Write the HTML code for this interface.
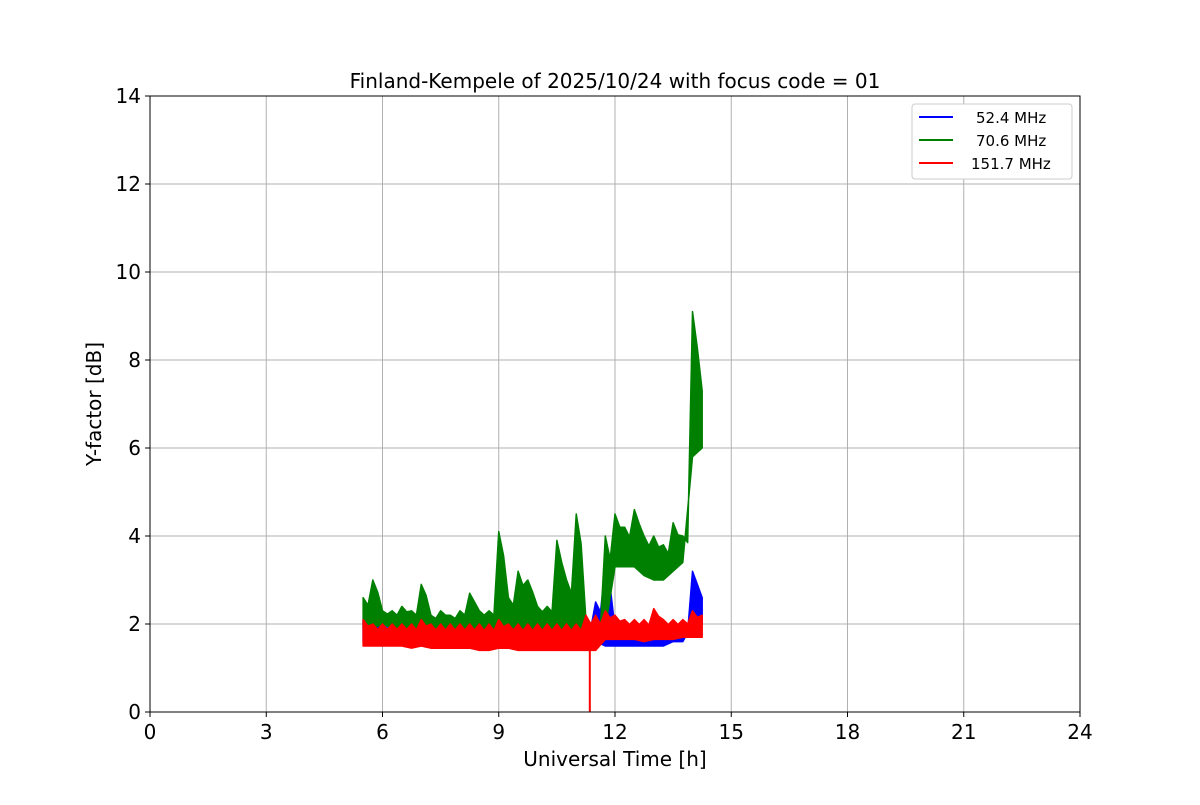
<!DOCTYPE html>
<html><head><meta charset="utf-8"><style>
body{margin:0;background:#fff;font-family:"Liberation Sans","DejaVu Sans",sans-serif}
svg text{font-family:"DejaVu Sans","Liberation Sans",sans-serif}
</style></head><body>
<svg id="chart" width="1200" height="800" xmlns="http://www.w3.org/2000/svg">
<rect width="1200" height="800" fill="#fff"/>
<g id="grid"></g><g id="series"></g><g id="axes"></g>
<text x="615" y="88" font-size="20" text-anchor="middle">Finland-Kempele of 2025/10/24 with focus code = 01</text>
<text x="615" y="766" font-size="20" text-anchor="middle">Universal Time [h]</text>
<text transform="translate(101,404) rotate(-90)" font-size="20" text-anchor="middle">Y-factor [dB]</text>
<g>
<rect x="912" y="104" width="160" height="75" fill="#fff" stroke="#ccc" rx="3"/>
<line x1="919" y1="117" x2="953" y2="117" stroke="blue" stroke-width="2"/><text x="976" y="123" font-size="15">52.4 MHz</text>
<line x1="919" y1="140" x2="953" y2="140" stroke="green" stroke-width="2"/><text x="976" y="146" font-size="15">70.6 MHz</text>
<line x1="919" y1="163" x2="953" y2="163" stroke="red" stroke-width="2"/><text x="971" y="169" font-size="15">151.7 MHz</text>
</g>
</svg>
<script>
const times=[5.5,5.75,6,6.25,6.5,6.75,7,7.25,7.5,7.75,8,8.25,8.5,8.75,9,9.25,9.5,9.75,10,10.25,10.5,10.75,11,11.25,11.5,11.75,12,12.25,12.5,12.75,13,13.25,13.5,13.75,14,14.25];
const greenHigh=[2.6,3.0,2.3,2.3,2.4,2.3,2.9,2.2,2.3,2.2,2.3,2.7,2.3,2.3,4.1,2.6,3.2,3.0,2.4,2.4,3.9,3.0,4.5,2.1,2.0,4.0,4.5,4.2,4.6,4.0,4.0,3.8,4.3,4.0,9.1,7.3];
const greenLow=[1.9,1.9,2.0,1.9,1.9,1.9,1.9,1.9,1.9,1.9,1.9,1.9,1.9,1.9,1.9,1.9,1.9,1.9,1.9,1.9,1.9,1.8,1.8,1.8,1.8,1.9,3.3,3.3,3.3,3.1,3.0,3.0,3.2,3.4,5.8,6.0];
const blueHigh=[2.1,2.1,2.0,2.0,2.0,2.0,2.2,2.0,2.0,2.0,2.0,2.0,2.0,2.0,2.0,2.1,2.0,2.0,2.1,2.1,2.1,2.0,2.0,2.0,2.5,3.3,1.9,1.9,1.8,1.8,1.8,1.8,1.8,1.9,3.2,2.6];
const blueLow=[1.6,1.6,1.6,1.6,1.6,1.6,1.6,1.6,1.6,1.6,1.6,1.6,1.6,1.6,1.6,1.6,1.6,1.6,1.6,1.6,1.6,1.6,1.6,1.6,1.6,1.5,1.5,1.5,1.5,1.5,1.5,1.5,1.6,1.6,2.0,2.0];
const redHigh=[2.1,2.0,2.0,2.0,2.0,2.0,2.1,2.0,2.0,2.0,2.0,2.0,2.0,2.0,2.1,2.0,2.0,2.0,2.0,2.0,2.0,2.0,2.0,2.2,2.2,2.3,2.2,2.1,2.1,2.1,2.35,2.1,2.1,2.1,2.3,2.2];
const redLow=[1.5,1.5,1.5,1.5,1.5,1.45,1.5,1.45,1.45,1.45,1.45,1.45,1.4,1.4,1.45,1.45,1.4,1.4,1.4,1.4,1.4,1.4,1.4,1.4,1.4,1.65,1.65,1.65,1.65,1.6,1.65,1.65,1.65,1.7,1.7,1.7];
const redDipTime=[11.35];const redDipValue=[0];
const xTicks=[0,3,6,9,12,15,18,21,24];
const yTicks=[0,2,4,6,8,10,12,14];
const X0=150,X1=1080,Y0=712,Y1=96;
const xs=v=>X0+(v/24)*(X1-X0);
const ys=v=>Y0-(v/14)*(Y0-Y1);
const NS="http://www.w3.org/2000/svg";
function mk(tag,attrs,parent){const e=document.createElementNS(NS,tag);for(const k in attrs)e.setAttribute(k,attrs[k]);parent.appendChild(e);return e;}
const grid=document.getElementById('grid'),axes=document.getElementById('axes'),ser=document.getElementById('series');
xTicks.forEach(t=>{
 const g=mk('line',{x1:xs(t),x2:xs(t),y1:Y1,y2:Y0,stroke:'#b0b0b0','stroke-width':1},grid);
 
 
 mk('line',{x1:xs(t),x2:xs(t),y1:Y0,y2:Y0+5,stroke:'#000'},axes);
 const tx=mk('text',{x:xs(t),y:Y0+27,'font-size':20,'text-anchor':'middle'},axes);tx.textContent=t;
 
 
});
yTicks.forEach(t=>{
 const g=mk('line',{x1:X0,x2:X1,y1:ys(t),y2:ys(t),stroke:'#b0b0b0','stroke-width':1},grid);
 
 
 mk('line',{x1:X0-5,x2:X0,y1:ys(t),y2:ys(t),stroke:'#000'},axes);
 const tx=mk('text',{x:X0-9,y:ys(t)+7,'font-size':20,'text-anchor':'end'},axes);tx.textContent=t;
 
 
});
const fr=mk('rect',{x:X0,y:Y1,width:X1-X0,height:Y0-Y1,fill:'none',stroke:'#000','stroke-width':1},axes);


function band(hi,lo,color,name){
 let d='';
 times.forEach((t,i)=>{const tt=Math.min(t,times[times.length-1]);d+=(i?'L':'M')+xs(tt)+','+ys(hi[i]);if(i<times.length-1)d+='L'+xs(t+0.125)+','+ys((hi[i]+lo[i])/2+ (hi[i]-lo[i])*0.25);});
 for(let i=times.length-1;i>=0;i--)d+='L'+xs(times[i])+','+ys(lo[i]);
 d+='Z';
 const p=mk('path',{d:d,fill:color,stroke:color,'stroke-width':1.5,'stroke-linejoin':'round'},ser);
 
 
}
band(blueHigh,blueLow,'blue','series-52-4-mhz');
band(greenHigh,greenLow,'green','series-70-6-mhz');
band(redHigh,redLow,'red','series-151-7-mhz');
redDipTime.forEach((t,i)=>{
 const l=mk('line',{x1:xs(t),x2:xs(t),y1:ys(1.5),y2:ys(redDipValue[i]),stroke:'red','stroke-width':2},ser);
 
 
});
</script>
</body></html>
